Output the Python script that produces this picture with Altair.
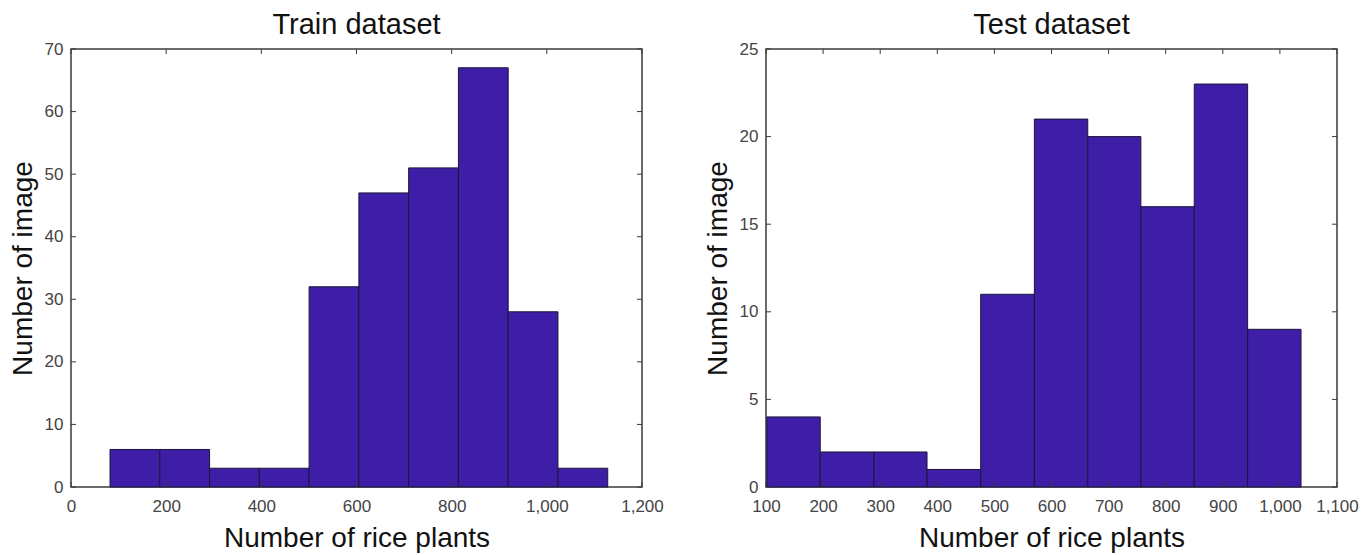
import altair as alt
import pandas as pd

# ---- data ----
train_edges = [82, 186.6, 291.2, 395.8, 500.4, 605, 709.6, 814.2, 918.8, 1023.4, 1128]
train_counts = [6, 6, 3, 3, 32, 47, 51, 67, 28, 3]
train_xticks = [0, 200, 400, 600, 800, 1000, 1200]
train_yticks = [0, 10, 20, 30, 40, 50, 60, 70]

test_edges = [101.5, 195, 289, 382, 476, 570, 663.5, 756.5, 850, 943.5, 1037]
test_counts = [4, 2, 2, 1, 11, 21, 20, 16, 23, 9]
test_xticks = [100, 200, 300, 400, 500, 600, 700, 800, 900, 1000, 1100]
test_yticks = [0, 5, 10, 15, 20, 25]

W, H = 571, 438
TICK = 5
FONT = "Liberation Sans"
BAR = "#3E1EA6"
FRAME = "#3a3a3a"


def panel(title, edges, counts, xdom, xticks, ydom, yticks):
    bars_df = pd.DataFrame({"x": edges[:-1], "x2": edges[1:], "y": counts, "y0": [0] * len(counts)})
    xscale = alt.Scale(domain=xdom, nice=False, zero=False)
    yscale = alt.Scale(domain=ydom, nice=False)
    xaxis = alt.Axis(values=xticks, format=",d", title="Number of rice plants",
                     labelPadding=11, titlePadding=10, labelOverlap=False, labelFlush=False)
    yaxis = alt.Axis(values=yticks, title="Number of image", labelPadding=8, titlePadding=7,
                     labelOverlap=False, labelFlush=False)
    bars = alt.Chart(bars_df).mark_rect(color=BAR, stroke="#1b1638", strokeWidth=1).encode(
        x=alt.X("x:Q", scale=xscale, axis=xaxis),
        x2="x2:Q",
        y=alt.Y("y:Q", scale=yscale, axis=yaxis),
        y2="y0:Q",
    )
    xt = pd.DataFrame({"x": xticks})
    yt = pd.DataFrame({"y": yticks})
    rule = dict(color=FRAME, strokeWidth=1)
    bottom = alt.Chart(xt).mark_rule(**rule).encode(
        x=alt.X("x:Q", scale=xscale, axis=xaxis), y=alt.value(H), y2=alt.value(H - TICK))
    top = alt.Chart(xt).mark_rule(**rule).encode(
        x=alt.X("x:Q", scale=xscale, axis=xaxis), y=alt.value(0), y2=alt.value(TICK))
    left = alt.Chart(yt).mark_rule(**rule).encode(
        y=alt.Y("y:Q", scale=yscale, axis=yaxis), x=alt.value(0), x2=alt.value(TICK))
    right = alt.Chart(yt).mark_rule(**rule).encode(
        y=alt.Y("y:Q", scale=yscale, axis=yaxis), x=alt.value(W - TICK), x2=alt.value(W))
    return alt.layer(bars, bottom, top, left, right).properties(
        width=W, height=H,
        title=alt.TitleParams(title, fontSize=29, fontWeight="normal", font=FONT,
                              color="#111111", offset=0),
    )


left_panel = panel("Train dataset", train_edges, train_counts, [0, 1200], train_xticks, [0, 70], train_yticks)
right_panel = panel("Test dataset", test_edges, test_counts, [100, 1100], test_xticks, [0, 25], test_yticks)

chart = alt.hconcat(left_panel, right_panel, spacing=38).properties(
    background="white", padding={"left": 0, "top": 2, "right": 0, "bottom": 0}
).configure_view(
    stroke=FRAME, strokeWidth=1.5
).configure_axis(
    domain=False, ticks=False, grid=False,
    labelFont=FONT, labelFontSize=17, labelColor="#444444",
    titleFont=FONT, titleFontSize=28, titleFontWeight="normal", titleColor="#111111",
)

chart.save("out.html", embed_options={"renderer": "svg", "actions": False})
